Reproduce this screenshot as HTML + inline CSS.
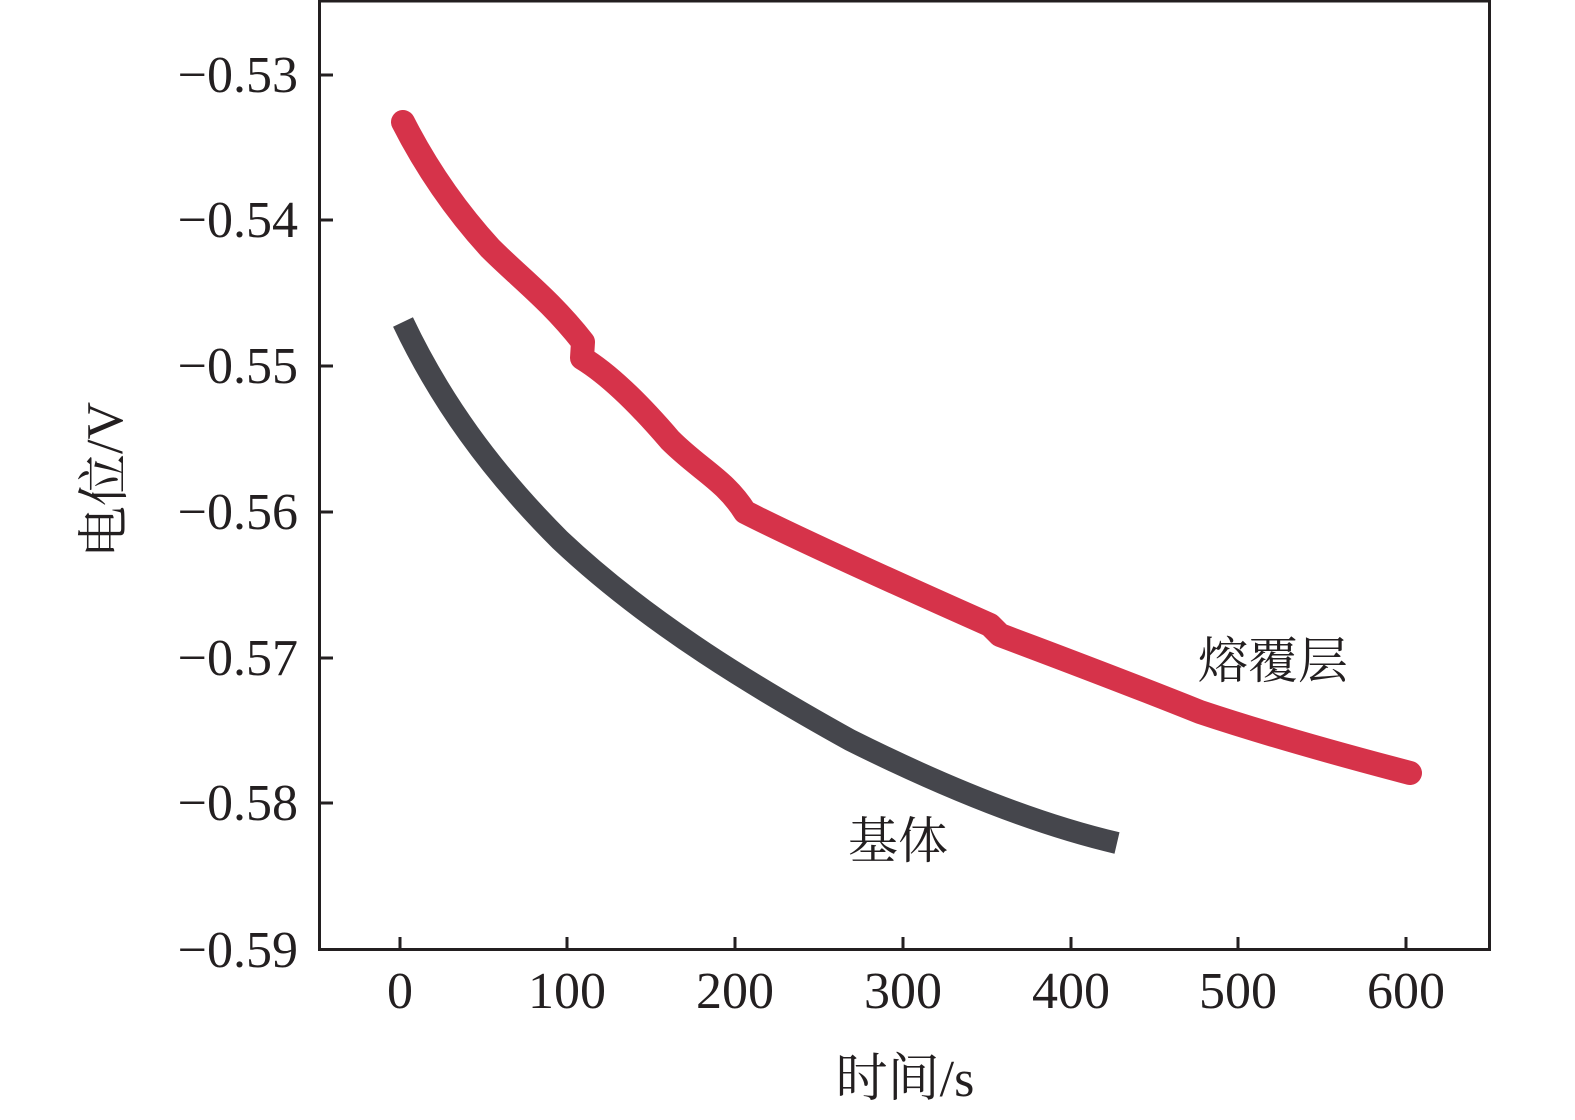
<!DOCTYPE html>
<html><head><meta charset="utf-8"><style>
html,body{margin:0;padding:0;background:#fff;}
svg text{font-family:"Liberation Serif","Noto Serif CJK SC",serif;}
</style></head><body>
<svg width="1575" height="1120" viewBox="0 0 1575 1120" xmlns="http://www.w3.org/2000/svg" style="display:block">
<g fill="#231f20" font-size="52">
<rect x="319.5" y="1" width="1170" height="948.5" fill="none" stroke="#231f20" stroke-width="3"/>
<g stroke="#231f20" stroke-width="3">
<line x1="319" y1="75" x2="333" y2="75"/><line x1="319" y1="220" x2="333" y2="220"/>
<line x1="319" y1="366" x2="333" y2="366"/><line x1="319" y1="512" x2="333" y2="512"/>
<line x1="319" y1="658" x2="333" y2="658"/><line x1="319" y1="803" x2="333" y2="803"/>
<line x1="400" y1="950" x2="400" y2="937"/><line x1="567" y1="950" x2="567" y2="937"/>
<line x1="735" y1="950" x2="735" y2="937"/><line x1="903" y1="950" x2="903" y2="937"/>
<line x1="1071" y1="950" x2="1071" y2="937"/><line x1="1238" y1="950" x2="1238" y2="937"/>
<line x1="1406" y1="950" x2="1406" y2="937"/>
</g>
<g text-anchor="end">
<text x="298" y="92">−0.53</text><text x="298" y="237">−0.54</text>
<text x="298" y="383">−0.55</text><text x="298" y="529">−0.56</text>
<text x="298" y="675">−0.57</text><text x="298" y="820">−0.58</text>
<text x="298" y="967">−0.59</text>
</g>
<g text-anchor="middle">
<text x="400" y="1008">0</text><text x="567" y="1008">100</text><text x="735" y="1008">200</text>
<text x="903" y="1008">300</text><text x="1071" y="1008">400</text><text x="1238" y="1008">500</text>
<text x="1406" y="1008">600</text>
<text x="905" y="1096">时间/s</text>
<text transform="translate(122,480) rotate(-90)">电位/V</text>
</g>
<path d="M403,122 C430,175 460,215 490,248 C520,278 550,300 583,342 L582,358 C610,375 640,405 670,440 C700,470 725,480 745,512 C800,540 900,585 990,625 L1000,635 C1080,665 1150,692 1200,712 C1260,732 1330,752 1410,773" fill="none" stroke="#d6334a" stroke-width="24" stroke-linecap="round" stroke-linejoin="round"/>
<path d="M403,322 C440,400 490,470 560,540 C650,625 760,690 850,740 C950,790 1040,825 1117,843" fill="none" stroke="#45464c" stroke-width="22" stroke-linecap="butt"/>
<text x="1198" y="678" font-size="50">熔覆层</text>
<text x="848" y="858" font-size="50">基体</text>
</g>
</svg>
</body></html>
